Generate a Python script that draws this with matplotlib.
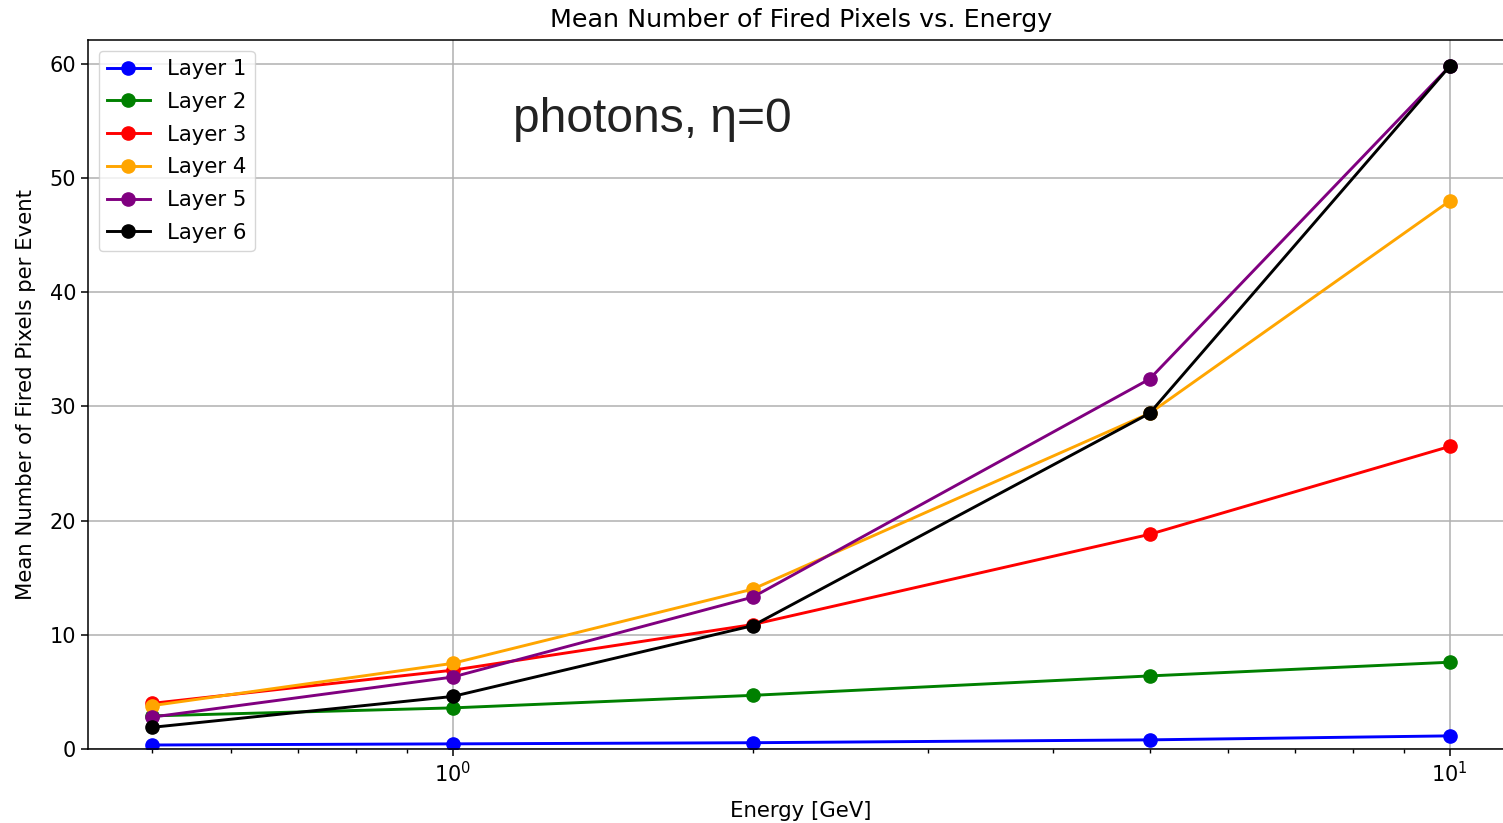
import matplotlib
matplotlib.use("Agg")
import matplotlib.pyplot as plt

energies = [0.5, 1, 2, 5, 10]
layer1 = [0.35, 0.45, 0.55, 0.8, 1.15]
layer2 = [2.9, 3.6, 4.7, 6.4, 7.6]
layer3 = [4.0, 6.9, 10.9, 18.8, 26.5]
layer4 = [3.8, 7.5, 14.0, 29.4, 48.0]
layer5 = [2.8, 6.3, 13.3, 32.4, 59.8]
layer6 = [1.9, 4.6, 10.8, 29.4, 59.8]
labels = ["Layer 1", "Layer 2", "Layer 3", "Layer 4", "Layer 5", "Layer 6"]
colors = ["blue", "green", "red", "orange", "purple", "black"]
series = [layer1, layer2, layer3, layer4, layer5, layer6]

fig = plt.figure(figsize=(15.03, 8.23), dpi=100)
ax = fig.add_axes([88/1503, 74/823, (1514-88)/1503, (749-40)/823])

for vals, lab, c in zip(series, labels, colors):
    ax.plot(energies, vals, marker="o", color=c, label=lab, linewidth=2.1, markersize=9.5)

ax.set_xscale("log")
ax.set_xlim(0.431, 11.6)
ax.set_ylim(0, 62.1)
ax.grid(True, which="major", color="#b0b0b0", linewidth=1.1)
ax.tick_params(axis="both", which="major", labelsize=15, length=5, width=1.1)
ax.tick_params(axis="x", which="minor", length=3, width=1.0)
for s in ax.spines.values():
    s.set_linewidth(1.1)
ax.set_title("Mean Number of Fired Pixels vs. Energy", fontsize=18.3, pad=9.5)
ax.set_xlabel("Energy [GeV]", fontsize=15.3, labelpad=11)
ax.set_ylabel("Mean Number of Fired Pixels per Event", fontsize=15.3, labelpad=10)
ax.legend(loc="upper left", fontsize=15.3, handlelength=2.0, labelspacing=0.6)
fig.text(513/1503, 1 - 120/823, "photons, η=0", fontsize=34.5, family=["Liberation Sans", "DejaVu Sans"],
         color="#222222", va="center", ha="left")

fig.savefig("out.png", dpi=100)
